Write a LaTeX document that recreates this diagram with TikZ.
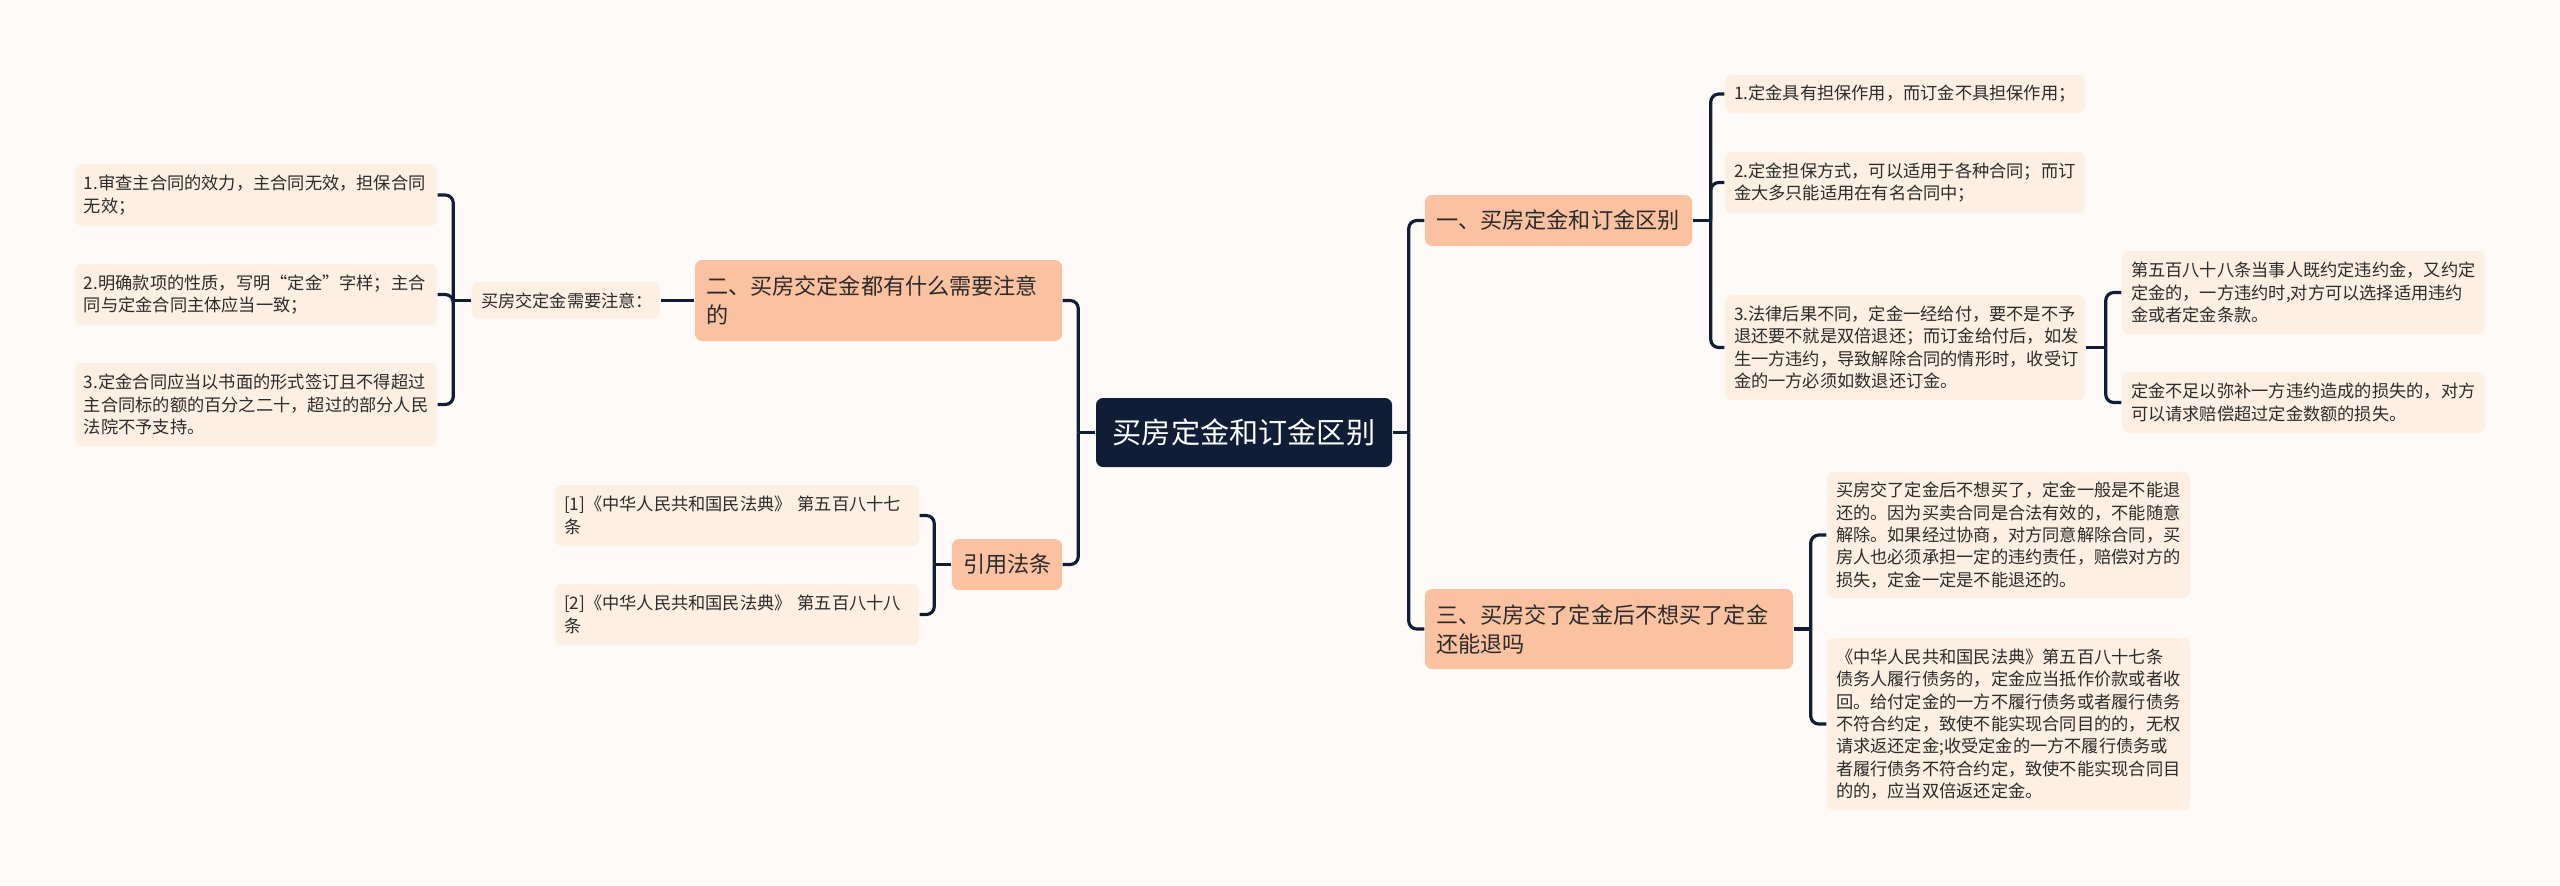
\documentclass[tikz,border=0pt]{standalone}
\usepackage{fontspec}
\setmainfont{Noto Sans CJK SC}
\usepackage{tikz}
\usepackage{xcolor}
\definecolor{rootnavy}{HTML}{0F1E36}
\definecolor{topicpeach}{HTML}{FBC2A2}
\definecolor{leafcream}{HTML}{FDEFE1}
\definecolor{paper}{HTML}{FEFAF8}
\definecolor{inkgray}{HTML}{2B2B2B}
\tikzset{
  rootbox/.style ={fill=rootnavy, rounded corners=2pt, text=white,
                   font=\fontsize{8.3pt}{10pt}\selectfont,
                   minimum width=2.96cm, minimum height=0.69cm, inner sep=0pt},
  topicbox/.style={fill=topicpeach, rounded corners=2pt, text=inkgray,
                   font=\fontsize{6.3pt}{8.25pt}\selectfont, align=left,
                   inner xsep=0.11cm, inner ysep=0pt},
  leafbox/.style ={fill=leafcream, rounded corners=2pt, text=inkgray,
                   font=\fontsize{4.9pt}{6.35pt}\selectfont, align=left,
                   inner xsep=0.09cm, inner ysep=0pt},
  conn/.style    ={draw=rootnavy, line width=0.9pt, rounded corners=2.3pt},
}

\begin{document}
\begin{tikzpicture}
  \fill[paper] (0,0) rectangle (25.6,-8.85);

  \node[rootbox] (root) at (12.44,-4.325) {买房定金和订金区别};

  \node[topicbox, text width=2.45cm, minimum height=0.51cm] (sec1) at (15.585,-2.205)
    {一、买房定金和订金区别};
  \node[topicbox, text width=3.45cm, minimum height=0.81cm] (sec2) at (8.785,-3.005)
    {二、买房交定金都有什么需要注意\\的};
  \node[topicbox, text width=3.46cm, minimum height=0.80cm] (sec3) at (16.09,-6.29)
    {三、买房交了定金后不想买了定金\\还能退吗};
  \node[topicbox, text width=0.88cm, minimum height=0.51cm] (cite) at (10.07,-5.645)
    {引用法条};

  \node[leafbox, text width=3.42cm, minimum height=0.38cm] (d1) at (19.05,-0.94)
    {1.定金具有担保作用，而订金不具担保作用；};
  \node[leafbox, text width=3.42cm, minimum height=0.61cm] (d2) at (19.05,-1.825)
    {2.定金担保方式，可以适用于各种合同；而订\\金大多只能适用在有名合同中；};
  \node[leafbox, text width=3.42cm, minimum height=1.05cm] (d3) at (19.05,-3.475)
    {3.法律后果不同，定金一经给付，要不是不予\\退还要不就是双倍退还；而订金给付后，如发\\生一方违约，导致解除合同的情形时，收受订\\金的一方必须如数退还订金。};
  \node[leafbox, text width=3.45cm, minimum height=0.83cm] (law1) at (23.035,-2.925)
    {第五百八十八条当事人既约定违约金，又约定\\定金的，一方违约时,对方可以选择适用违约\\金或者定金条款。};
  \node[leafbox, text width=3.45cm, minimum height=0.61cm] (law2) at (23.035,-4.025)
    {定金不足以弥补一方违约造成的损失的，对方\\可以请求赔偿超过定金数额的损失。};

  \node[leafbox, text width=3.45cm, minimum height=1.26cm] (back1) at (20.085,-5.35)
    {买房交了定金后不想买了，定金一般是不能退\\还的。因为买卖合同是合法有效的，不能随意\\解除。如果经过协商，对方同意解除合同，买\\房人也必须承担一定的违约责任，赔偿对方的\\损失，定金一定是不能退还的。};
  \node[leafbox, text width=3.45cm, minimum height=1.72cm] (back2) at (20.085,-7.24)
    {《中华人民共和国民法典》第五百八十七条\\债务人履行债务的，定金应当抵作价款或者收\\回。给付定金的一方不履行债务或者履行债务\\不符合约定，致使不能实现合同目的的，无权\\请求返还定金;收受定金的一方不履行债务或\\者履行债务不符合约定，致使不能实现合同目\\的的，应当双倍返还定金。};

  \node[leafbox, text width=1.70cm, minimum height=0.37cm] (note) at (5.66,-3.005)
    {买房交定金需要注意：};
  \node[leafbox, text width=3.44cm, minimum height=0.62cm] (n1) at (2.56,-1.95)
    {1.审查主合同的效力，主合同无效，担保合同\\无效；};
  \node[leafbox, text width=3.44cm, minimum height=0.61cm] (n2) at (2.56,-2.945)
    {2.明确款项的性质，写明“定金”字样；主合\\同与定金合同主体应当一致；};
  \node[leafbox, text width=3.44cm, minimum height=0.83cm] (n3) at (2.56,-4.045)
    {3.定金合同应当以书面的形式签订且不得超过\\主合同标的额的百分之二十，超过的部分人民\\法院不予支持。};

  \node[leafbox, text width=3.46cm, minimum height=0.61cm] (ref1) at (7.37,-5.155)
    {[1]《中华人民共和国民法典》 第五百八十七\\条};
  \node[leafbox, text width=3.46cm, minimum height=0.61cm] (ref2) at (7.37,-6.145)
    {[2]《中华人民共和国民法典》 第五百八十八\\条};

  \draw[conn] (root.east) -- ++(0.16,0) coordinate (jR);
  \foreach \c in {sec1,sec3} \draw[conn] (jR) |- (\c.west);
  \draw[conn] (root.west) -- ++(-0.17,0) coordinate (jL);
  \foreach \c in {sec2,cite} \draw[conn] (jL) |- (\c.east);

  \draw[conn] (sec1.east) -- ++(0.18,0) coordinate (j1);
  \foreach \c in {d1,d2,d3} \draw[conn] (j1) |- (\c.west);
  \draw[conn] (d3.east) -- ++(0.20,0) coordinate (j13);
  \foreach \c in {law1,law2} \draw[conn] (j13) |- (\c.west);
  \draw[conn] (sec3.east) -- ++(0.17,0) coordinate (j3);
  \foreach \c in {back1,back2} \draw[conn] (j3) |- (\c.west);

  \draw[conn] (sec2.west) -- (note.east);
  \draw[conn] (note.west) -- ++(-0.18,0) coordinate (j2);
  \foreach \c in {n1,n2,n3} \draw[conn] (j2) |- (\c.east);
  \draw[conn] (cite.west) -- ++(-0.17,0) coordinate (j4);
  \foreach \c in {ref1,ref2} \draw[conn] (j4) |- (\c.east);
\end{tikzpicture}
\end{document}
